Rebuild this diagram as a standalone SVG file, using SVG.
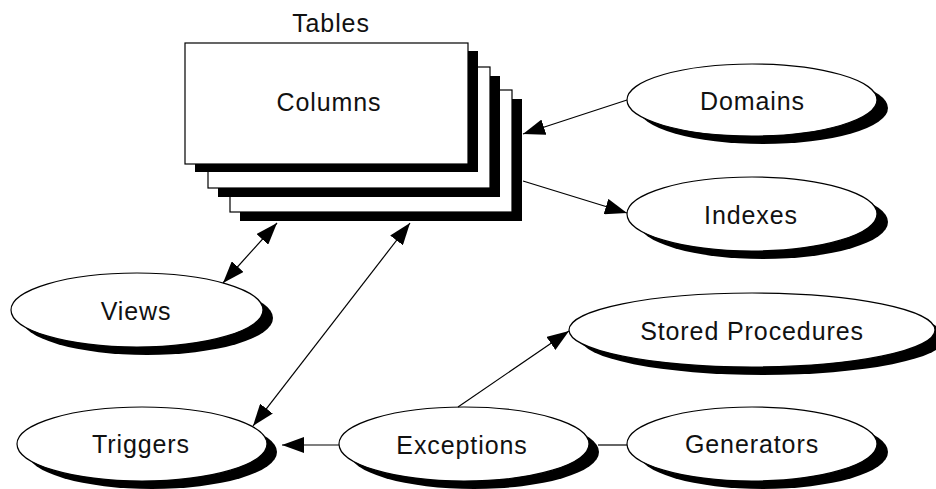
<svg xmlns="http://www.w3.org/2000/svg" width="936" height="489" viewBox="0 0 936 489">
<style>
.sh{fill:#000;stroke:none}
.bx{fill:#fff;stroke:#000;stroke-width:1.2}
.t{font-family:"Liberation Sans",Arial,sans-serif;font-size:25px;letter-spacing:0.9px;text-anchor:middle;fill:#111}
.c{stroke:#000;stroke-width:1.2;fill:none}
</style>
<defs>
<marker id="ah" viewBox="0 0 22 16" refX="22" refY="8" markerWidth="22" markerHeight="16" markerUnits="userSpaceOnUse" orient="auto-start-reverse">
<path d="M0,0 L22,8 L0,16 z" fill="#000"/>
</marker>
</defs>
<rect width="936" height="489" fill="#fff"/>

<g id="tables">
<rect class="sh" x="240" y="99" width="282" height="122"/>
<rect class="bx" x="230" y="90" width="282" height="122"/>
<rect class="sh" x="218" y="76" width="282" height="121"/>
<rect class="bx" x="208" y="67" width="282" height="121"/>
<rect class="sh" x="195" y="51" width="283" height="121"/>
<rect class="bx" x="185" y="43" width="283" height="121"/>
<text class="t" x="331" y="32">Tables</text>
<text class="t" x="329" y="111">Columns</text>
</g>

<g id="domains">
<ellipse class="sh" cx="763" cy="108" rx="125" ry="36"/>
<ellipse class="bx" cx="752" cy="100" rx="125" ry="36"/>
<text class="t" x="752.5" y="110">Domains</text>
</g>

<g id="indexes">
<ellipse class="sh" cx="763" cy="222" rx="125" ry="37"/>
<ellipse class="bx" cx="752" cy="214" rx="125" ry="37"/>
<text class="t" x="751" y="224">Indexes</text>
</g>

<g id="views">
<ellipse class="sh" cx="147" cy="318" rx="126" ry="37"/>
<ellipse class="bx" cx="137" cy="310" rx="126" ry="37"/>
<text class="t" x="136" y="320">Views</text>
</g>

<g id="triggers">
<ellipse class="sh" cx="152" cy="452" rx="125" ry="37"/>
<ellipse class="bx" cx="142" cy="444" rx="125" ry="37"/>
<text class="t" x="141" y="453">Triggers</text>
</g>

<g id="exceptions">
<ellipse class="sh" cx="474" cy="452" rx="125" ry="37"/>
<ellipse class="bx" cx="464" cy="444" rx="125" ry="37"/>
<text class="t" x="462" y="454">Exceptions</text>
</g>

<g id="generators">
<ellipse class="sh" cx="763" cy="452" rx="125" ry="37"/>
<ellipse class="bx" cx="752" cy="444" rx="125" ry="37"/>
<text class="t" x="752" y="453">Generators</text>
</g>

<g id="stored-procedures">
<ellipse class="sh" cx="763" cy="338" rx="183" ry="37"/>
<ellipse class="bx" cx="752" cy="330" rx="183" ry="37"/>
<text class="t" x="752" y="340">Stored Procedures</text>
</g>

<g id="connectors">
<line class="c" x1="627" y1="100" x2="523" y2="134" marker-end="url(#ah)"/>
<line class="c" x1="523" y1="181" x2="627" y2="213" marker-end="url(#ah)"/>
<line class="c" x1="223" y1="283" x2="277" y2="223" marker-start="url(#ah)" marker-end="url(#ah)"/>
<line class="c" x1="253" y1="426" x2="410" y2="223" marker-start="url(#ah)" marker-end="url(#ah)"/>
<line class="c" x1="339" y1="445" x2="282" y2="445" marker-end="url(#ah)"/>
<line class="c" x1="458" y1="407" x2="569" y2="331" marker-end="url(#ah)"/>
<line class="c" x1="598" y1="445" x2="627" y2="445"/>
</g>
</svg>
